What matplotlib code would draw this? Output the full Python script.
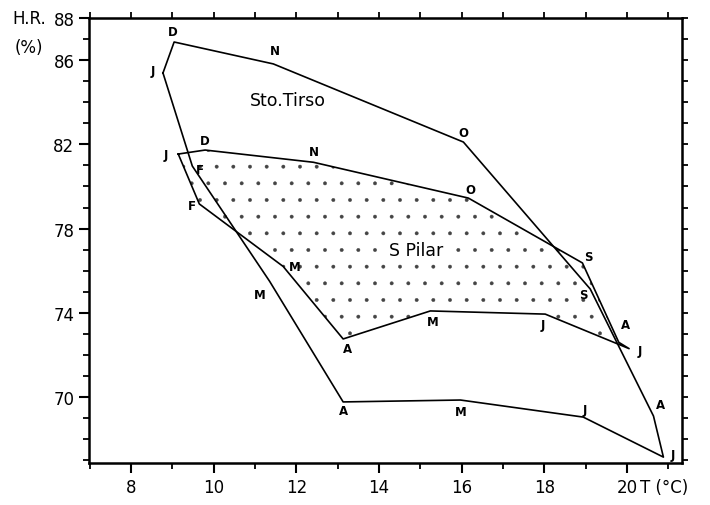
import matplotlib.pyplot as plt
from matplotlib.ticker import MultipleLocator, FixedLocator

# meses (Jan..Dez)
meses = ['J', 'F', 'M', 'A', 'M', 'J', 'J', 'A', 'S', 'O', 'N', 'D']

# Sto. Tirso
t_tirso = [8.77, 9.48, 11.35, 13.13, 15.97, 18.94, 20.88, 20.64, 19.11, 16.04, 11.44, 9.04]
hr_tirso = [85.39, 80.97, 75.5, 69.77, 69.86, 69.05, 67.15, 69.1, 75.13, 82.11, 85.82, 86.86]

# S. Pilar
t_pilar = [9.14, 9.65, 11.68, 13.13, 15.24, 18.02, 20.05, 19.8, 18.92, 16.16, 12.41, 9.79]
hr_pilar = [81.54, 79.17, 76.2, 72.76, 74.09, 73.94, 72.3, 72.6, 76.37, 79.45, 81.15, 81.73]

y_labels = [88, 86, 82, 78, 74, 70]
x_labels = [8, 10, 12, 14, 16, 18, 20]

# deslocamento das letras dos meses (pixels)
off_tirso = [(-10, 2), (8, -3), (-10, -13), (0, -9), (0, -11), (2, 8),
             (9, 3), (7, 12), (-7, -5), (0, 10), (2, 13), (-1, 11)]
off_pilar = [(-12, 0), (-7, -2), (12, 0), (4, -10), (2, -11), (-2, -10),
             (11, -2), (7, 18), (6, 6), (2, 9), (0, 11), (0, 10)]

plt.rcParams['hatch.linewidth'] = 0.3
plt.rcParams['hatch.color'] = '#333333'

fig = plt.figure(figsize=(7.1, 5.06), dpi=100)
ax = fig.add_axes([89 / 710, 1 - 464 / 506, (682 - 89) / 710, (464 - 19) / 506])

ax.fill(t_pilar, hr_pilar, facecolor='white', edgecolor='#444444', hatch='.', linewidth=0)
ax.plot(t_pilar + t_pilar[:1], hr_pilar + hr_pilar[:1], color='black', lw=1.2)
ax.plot(t_tirso + t_tirso[:1], hr_tirso + hr_tirso[:1], color='black', lw=1.2)

for i in range(12):
    ax.annotate(meses[i], (t_tirso[i], hr_tirso[i]), xytext=off_tirso[i],
                textcoords='offset pixels', ha='center', va='center',
                fontsize=8.5, fontweight='bold')
    ax.annotate(meses[i], (t_pilar[i], hr_pilar[i]), xytext=off_pilar[i],
                textcoords='offset pixels', ha='center', va='center',
                fontsize=8.5, fontweight='bold')

ax.text(11.8, 84.1, 'Sto.Tirso', fontsize=12.5, ha='center', va='center')
ax.text(14.9, 77.0, 'S Pilar', fontsize=12.5, ha='center', va='center',
        bbox=dict(facecolor='white', edgecolor='none', pad=0.5))

ax.set_xlim(6.98, 21.33)
ax.set_ylim(66.87, 88)

ax.xaxis.set_major_locator(FixedLocator(x_labels))
ax.xaxis.set_minor_locator(MultipleLocator(1))
ax.yaxis.set_major_locator(FixedLocator(y_labels))
ax.yaxis.set_minor_locator(MultipleLocator(1))
ax.tick_params(which='major', direction='out', length=7, width=1.5, labelsize=12)
ax.tick_params(which='minor', direction='out', length=4, width=1.3)

for s in ax.spines.values():
    s.set_linewidth(1.8)

top = ax.secondary_xaxis('top')
top.xaxis.set_major_locator(MultipleLocator(1))
top.tick_params(direction='out', length=4, width=1.3, labeltop=False)
right = ax.secondary_yaxis('right')
right.yaxis.set_major_locator(MultipleLocator(1))
right.tick_params(direction='out', length=4, width=1.3, labelright=False)

fig.text(12 / 710, 1 - 19 / 506, 'H.R.', fontsize=12, ha='left', va='center')
fig.text(15 / 710, 1 - 48 / 506, '(%)', fontsize=12, ha='left', va='center')
fig.text(640 / 710, 1 - 488 / 506, 'T (°C)', fontsize=12, ha='left', va='center')

fig.savefig('out.png', dpi=100)
